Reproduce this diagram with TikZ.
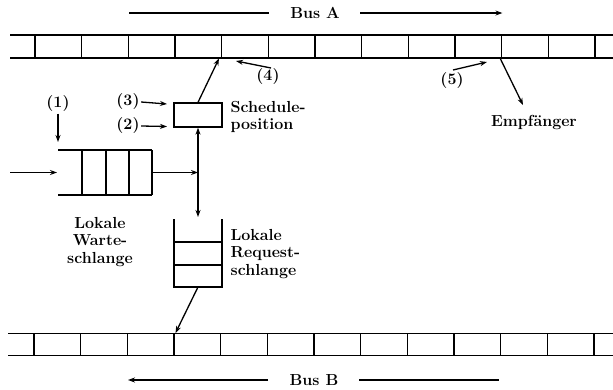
\documentclass[tikz,border=0pt]{standalone}
\usetikzlibrary{arrows.meta,positioning,calc}
\begin{document}
\begin{tikzpicture}[x=1pt,y=-1pt,line width=1.3pt,
  >={Stealth[length=7pt,width=5pt]},
  lbl/.style={font=\fontsize{16}{17.5}\selectfont\bfseries,inner sep=1pt},
  schedbox/.style={draw,minimum width=48pt,minimum height=24pt,inner sep=0pt}]
\useasboundingbox (0,0) rectangle (613,389);
% Bus A (oben)
\draw[line width=1.5pt] (10,35) -- (613,35) (10,58) -- (613,58);
\foreach \i in {0,...,12} \draw[line width=1.5pt] (35+46.67*\i,35) -- (35+46.67*\i,58);
\node[lbl] (busA) at (315,13) {Bus A};
\draw ([xshift=-20pt]busA.west) -- ++(-140,0);
\draw[->] ([xshift=19pt]busA.east) -- ++(142,0);
% Bus B (unten)
\draw[line width=1.5pt] (8,333.5) -- (613,333.5) (8,355.5) -- (613,355.5);
\foreach \i in {0,...,12} \draw[line width=1.5pt] (34+46.67*\i,333.5) -- (34+46.67*\i,355.5);
\node[lbl] (busB) at (314,380) {Bus B};
\draw[->] ([xshift=-20pt]busB.west) -- ++(-140,0);
\draw ([xshift=19pt]busB.east) -- ++(140,0);
% Scheduleposition
\node[schedbox] (sp) at (198,115) {};
\node[lbl,anchor=west,align=left] (spl) at (229,117) {Schedule-\\position};
\node[lbl] (n3) at (128,102) {(3)};
\node[lbl] (n2) at (128,126) {(2)};
\coordinate (e3) at (167,104);
\coordinate (e2) at (167,126.5);
\draw[->] (n3.east) -- (e3);
\draw[->] (n2.east) -- (e2);
\coordinate (busAin) at (219,58.5);
\draw[->] (sp.north) -- (busAin);
% (4)
\node[lbl] (n4) at (268,77) {(4)};
\coordinate (t4) at (271,68);
\coordinate (h4) at (236,61);
\draw[->] (t4) -- (h4);
% lokale Warteschlange
\draw (58,150) -- (152,150) (58,195) -- (152,195);
\foreach \x in {82,106,129,152} \draw (\x,150) -- (\x,195);
\node[lbl] (n1) at (58,104) {(1)};
\coordinate (wqtop) at (58,142);
\draw[->] (n1.south) -- (wqtop);
\coordinate (src) at (10,172.5);
\coordinate (wqin) at (57,172.5);
\coordinate (wqout) at (152,172.5);
\coordinate (jn) at (198,172.5);
\draw[->] (src) -- (wqin);
\draw[->] (wqout) -- (jn);
\node[lbl,align=center] (wql) at (100,242) {Lokale\\Warte-\\schlange};
% lokale Requestschlange
\draw (174,219) -- (174,287) -- (222,287) -- (222,219);
\draw (174,242) -- (222,242) (174,265) -- (222,265);
\coordinate (rqin) at (198,217);
\coordinate (rqout) at (198,287);
\draw[<->] (sp.south) -- (rqin);
\node[lbl,anchor=west,align=left] (rql) at (229,254) {Lokale\\Request-\\schlange};
\coordinate (busBin) at (175.5,333);
\draw[->] (rqout) -- (busBin);
% (5) und Empfaenger
\node[lbl] (n5) at (452,81) {(5)};
\coordinate (t5) at (453,70);
\coordinate (h5) at (487,62);
\draw[->] (t5) -- (h5);
\coordinate (rx) at (500,58);
\node[lbl] (emp) at (534,123) {Empfänger};
\coordinate (rxend) at (523,105);
\draw[->] (rx) -- (rxend);
\end{tikzpicture}
\end{document}
